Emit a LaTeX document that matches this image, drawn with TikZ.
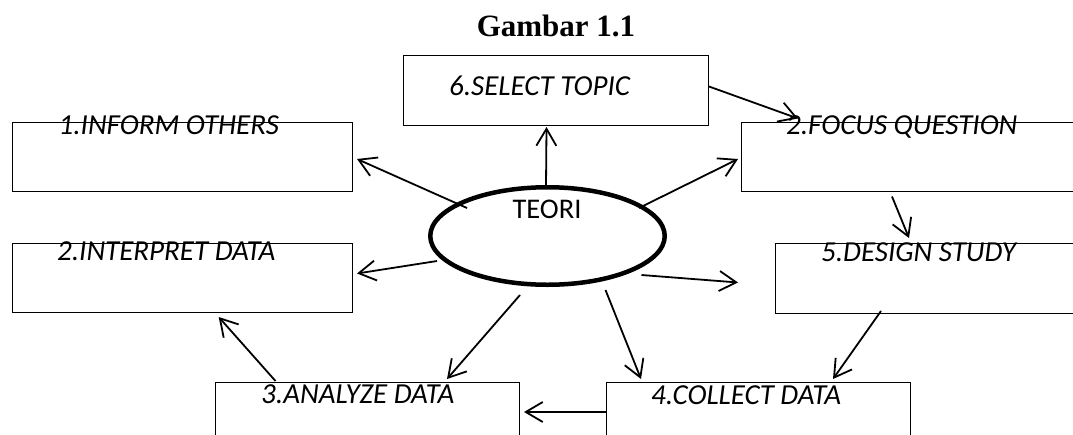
\documentclass[tikz,border=0pt]{standalone}
\usepackage{fontspec}
\setmainfont{Liberation Serif}
\newfontfamily\carl{Carlito}
\usetikzlibrary{arrows.meta,shapes.geometric}
\tikzset{
  box/.style={draw, line width=1pt, rectangle, inner sep=0pt, anchor=north west},
  boxtext/.style={anchor=base west, inner sep=0pt, font=\carl\itshape\fontsize{29}{31}\selectfont},
  conn/.style={line width=1.8pt, -{Straight Barb[length=17pt,width=20pt,line width=1.8pt]}},
}
\begin{document}
\begin{tikzpicture}[x=1pt,y=-1pt]
\clip (0,0) rectangle (1073,434);
\fill[white] (0,0) rectangle (1073,434);
% title
\node[anchor=base, inner sep=0pt, font=\bfseries\fontsize{31}{33}\selectfont] (title) at (556,36) {Gambar 1.1};
% boxes
\node[box, minimum width=305pt, minimum height=70pt] (sel) at (403,55) {};
\node[box, minimum width=340pt, minimum height=69pt] (inf) at (12,121.5) {};
\node[box, minimum width=360pt, minimum height=69pt] (foc) at (741,121.5) {};
\node[box, minimum width=340pt, minimum height=69pt] (int) at (12,243) {};
\node[box, minimum width=330pt, minimum height=70pt] (des) at (775,243) {};
\node[box, minimum width=304pt, minimum height=80pt] (ana) at (215,382) {};
\node[box, minimum width=304pt, minimum height=80pt] (col) at (606,382) {};
% texts
\node[boxtext] (selt) at ([shift={(46,40)}]sel.north west) {6.SELECT TOPIC};
\node[boxtext] (inft) at ([shift={(46.5,12.5)}]inf.north west) {1.INFORM OTHERS};
\node[boxtext] (foct) at ([shift={(45,12.5)}]foc.north west) {2.FOCUS QUESTION};
\node[boxtext] (intt) at ([shift={(45,17)}]int.north west) {2.INTERPRET DATA};
\node[boxtext] (dest) at ([shift={(46,18)}]des.north west) {5.DESIGN STUDY};
\node[boxtext] (anat) at ([shift={(46,21)}]ana.north west) {3.ANALYZE DATA};
\node[boxtext] (colt) at ([shift={(45,22)}]col.north west) {4.COLLECT DATA};
% ellipse
\node[ellipse, draw, line width=4.5pt, inner sep=0pt, minimum width=234.5pt, minimum height=97.5pt] (teori) at (547.5,236) {};
\node[anchor=base, inner sep=0pt, font=\carl\fontsize{28.5}{30}\selectfont] (teorit) at (547,218) {TEORI};
\coordinate (loose) at ([shift={(-37,4)}]des.west);
% connectors
\draw[conn] ([shift={(-80.5,-28)}]teori.center) -- ([shift={(4,2.5)}]inf.east);
\draw[conn] ([shift={(-1.5,-49)}]teori.center) -- ([shift={(-9.5,1)}]sel.south);
\draw[conn] ([shift={(91.5,-28)}]teori.center) -- ([shift={(-3,2.5)}]foc.west);
\draw[conn] ([shift={(0,-4)}]sel.east) -- ([shift={(57,-3)}]foc.north west);
\draw[conn] ([shift={(151,5)}]foc.south west) -- ([shift={(134,-5)}]des.north west);
\draw[conn] ([shift={(-110.5,25)}]teori.center) -- ([shift={(4,-4.5)}]int.east);
\draw[conn] ([shift={(94,39)}]teori.center) -- (loose);
\draw[conn] ([shift={(-27.5,59)}]teori.center) -- ([shift={(232,-3)}]ana.north west);
\draw[conn] ([shift={(58,54)}]teori.center) -- ([shift={(35,-3)}]col.north west);
\draw[conn] ([shift={(106,-3)}]des.south west) -- ([shift={(227,-3)}]col.north west);
\draw[conn] ([shift={(0,30)}]col.north west) -- ([shift={(4,30)}]ana.north east);
\draw[conn] ([shift={(60.5,-1)}]ana.north west) -- ([shift={(206.7,4)}]int.south west);
\end{tikzpicture}
\end{document}
